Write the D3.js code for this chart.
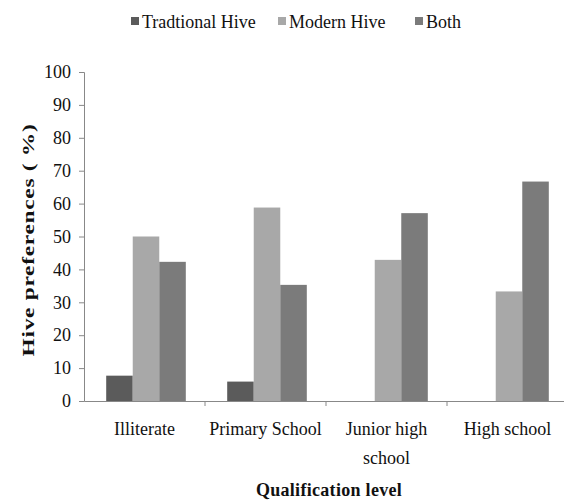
<!DOCTYPE html>
<html>
<head>
<meta charset="utf-8">
<script src="https://cdn.jsdelivr.net/npm/d3@7"></script>
<style>
  body { margin: 0; background: #fff; }
  text { font-family: "Liberation Serif", "Times New Roman", serif; fill: #111; }
</style>
</head>
<body>
<div id="chart"></div>
<script>
// data
const categories = ["Illiterate", "Primary School", "Junior high school", "High school"]
const categoryLines = [["Illiterate"], ["Primary School"], ["Junior high", "school"], ["High school"]]
const seriesNames = ["Tradtional Hive", "Modern Hive", "Both"]
const traditional = [7.7, 5.9, 0, 0]
const modern = [50, 58.8, 42.9, 33.3]
const both = [42.3, 35.3, 57.1, 66.7]
const yTicks = [0, 10, 20, 30, 40, 50, 60, 70, 80, 90, 100]

const colors = ["#5b5b5b", "#a8a8a8", "#7b7b7b"]

let width = 564, height = 501
let margin = {left: 84, right: -4, top: 72, bottom: 100}

let svg = d3.select("#chart").append("svg")
    .attr("width", width)
    .attr("height", height)

let x = d3.scaleBand()
    .domain(categories)
    .range([margin.left, width - margin.right])
    .paddingInner(0)
    .paddingOuter(0)

let inner = d3.scaleBand()
    .domain(seriesNames)
    .range([0, x.bandwidth()])
    .paddingOuter(0.78)
    .paddingInner(0)

let y = d3.scaleLinear()
    .domain([0, 100])
    .range([height - margin.bottom, margin.top])

let rows = categories.map((c, i) => ({
    cat: c,
    values: [traditional[i], modern[i], both[i]]
}))

// bars
let groups = svg.selectAll(".grp")
    .data(rows)
    .enter().append("g")
    .attr("class", "grp")
    .attr("transform", d => `translate(${x(d.cat) + 1.5},0)`)

groups.selectAll("rect")
    .data(d => d.values.map((v, j) => ({name: seriesNames[j], v: v, j: j})))
    .enter().append("rect")
    .attr("x", d => inner(d.name))
    .attr("width", inner.bandwidth())
    .attr("y", d => y(d.v))
    .attr("height", d => y(0) - y(d.v))
    .attr("fill", d => colors[d.j])

// y axis
let yAxis = svg.append("g")
    .attr("transform", `translate(${margin.left},0)`)
    .call(d3.axisLeft(y).tickValues(yTicks).tickSize(5).tickSizeOuter(5))
yAxis.select(".domain").attr("stroke", "#888")
yAxis.selectAll(".tick line").attr("stroke", "#888")
yAxis.selectAll("text")
    .attr("font-size", 18)
    .attr("fill", "#111")
    .attr("x", -13)

// x axis
let xAxis = svg.append("g")
    .attr("transform", `translate(0,${y(0)})`)
    .call(d3.axisBottom(x).tickSize(0).tickFormat(""))
xAxis.select(".domain").attr("stroke", "#888")

// category separator ticks
svg.selectAll(".sep")
    .data(categories.slice(1))
    .enter().append("line")
    .attr("class", "sep")
    .attr("x1", d => x(d))
    .attr("x2", d => x(d))
    .attr("y1", y(0))
    .attr("y2", y(0) + 5)
    .attr("stroke", "#888")

// category labels
let catLabels = svg.selectAll(".cat")
    .data(categories)
    .enter().append("text")
    .attr("class", "cat")
    .attr("text-anchor", "middle")
    .attr("font-size", 18)
    .attr("x", d => x(d) + x.bandwidth() / 2)
    .attr("y", y(0) + 34)

catLabels.selectAll("tspan")
    .data((d, i) => categoryLines[i])
    .enter().append("tspan")
    .attr("x", function() { return d3.select(this.parentNode).attr("x") })
    .attr("dy", (d, i) => i == 0 ? 0 : 29)
    .text(d => d)

// axis titles
svg.append("text")
    .attr("text-anchor", "middle")
    .attr("font-size", 18)
    .attr("font-weight", "bold")
    .attr("letter-spacing", 0.3)
    .attr("x", 329)
    .attr("y", 496)
    .text("Qualification  level")

// the source picture is stretched along this title, so scale it the same way
svg.append("text")
    .attr("text-anchor", "middle")
    .attr("font-size", 17)
    .attr("font-weight", "bold")
    .attr("letter-spacing", 0.5)
    .attr("transform", "translate(34,240) rotate(-90) scale(1.38,1)")
    .text("Hive preferences ( %)")

// legend
let legendX = [131, 278, 415]
let legend = svg.selectAll(".leg")
    .data(seriesNames)
    .enter().append("g")
    .attr("class", "leg")
    .attr("transform", (d, i) => `translate(${legendX[i]},22)`)

legend.append("rect")
    .attr("x", 0)
    .attr("y", -5)
    .attr("width", 8)
    .attr("height", 8)
    .attr("fill", (d, i) => colors[i])

legend.append("text")
    .attr("x", 11)
    .attr("y", 6)
    .attr("font-size", 18)
    .text(d => d)
</script>
</body>
</html>
